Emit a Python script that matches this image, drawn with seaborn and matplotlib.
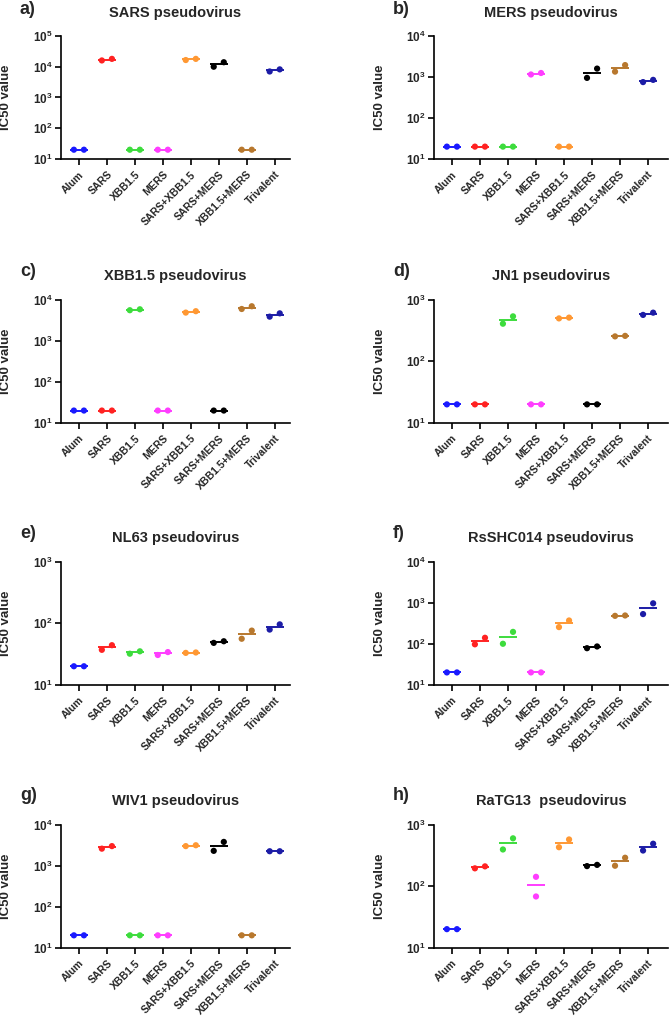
import numpy as np
import pandas as pd
import seaborn as sns
import matplotlib.pyplot as plt
from matplotlib.ticker import FuncFormatter, NullLocator

# groups and colours
groups = ["Alum", "SARS", "XBB1.5", "MERS", "SARS+XBB1.5", "SARS+MERS", "XBB1.5+MERS", "Trivalent"]
group_colors = ["#1a1aff", "#ff2222", "#3ddc3d", "#ff3dff", "#ff9833", "#000000", "#b8782e", "#1c1ca6"]

# IC50 values, two replicates per group
sars_rep1 = [20, 16000, 20, 20, 16500, 10000, 20, 7000]
sars_rep2 = [20, 18000, 20, 20, 18000, 14000, 20, 8200]
mers_rep1 = [20, 20, 20, 1150, 20, 950, 1350, 750]
mers_rep2 = [20, 20, 20, 1250, 20, 1600, 1950, 850]
xbb_rep1 = [20, 20, 5600, 20, 4900, 20, 6000, 3900]
xbb_rep2 = [20, 20, 5900, 20, 5300, 20, 7000, 4700]
jn1_rep1 = [20, 20, 410, 20, 500, 20, 255, 570]
jn1_rep2 = [20, 20, 540, 20, 515, 20, 260, 620]
nl63_rep1 = [20, 37, 32, 30.5, 33, 48, 56, 79]
nl63_rep2 = [20, 44, 35, 34, 33.5, 51, 76, 96]
rsshc_rep1 = [20, 97, 100, 20, 255, 78, 480, 530]
rsshc_rep2 = [20, 140, 195, 20, 370, 86, 490, 970]
wiv1_rep1 = [20, 2600, 20, 20, 3000, 2300, 20, 2250]
wiv1_rep2 = [20, 3000, 20, 20, 3150, 3800, 20, 2250]
ratg_rep1 = [20, 195, 395, 68, 430, 212, 215, 380]
ratg_rep2 = [20, 210, 600, 142, 575, 222, 290, 490]

titles = ["SARS pseudovirus", "MERS pseudovirus", "XBB1.5 pseudovirus", "JN1 pseudovirus",
          "NL63 pseudovirus", "RsSHC014 pseudovirus", "WIV1 pseudovirus", "RaTG13  pseudovirus"]
letters = ["a)", "b)", "c)", "d)", "e)", "f)", "g)", "h)"]
top_exp = [5, 4, 4, 3, 3, 4, 4, 3]
reps = [(sars_rep1, sars_rep2), (mers_rep1, mers_rep2), (xbb_rep1, xbb_rep2), (jn1_rep1, jn1_rep2),
        (nl63_rep1, nl63_rep2), (rsshc_rep1, rsshc_rep2), (wiv1_rep1, wiv1_rep2), (ratg_rep1, ratg_rep2)]

sns.set_style("ticks")
plt.rcParams["font.family"] = ["Liberation Sans", "DejaVu Sans"]
plt.rcParams["font.weight"] = "bold"
plt.rcParams["mathtext.fontset"] = "custom"
plt.rcParams["mathtext.rm"] = "Liberation Sans:bold"
plt.rcParams["mathtext.bf"] = "Liberation Sans:bold"
plt.rcParams["mathtext.it"] = "Liberation Sans:bold"

palette = dict(zip(groups, group_colors))

fig = plt.figure(figsize=(6.69, 10.19), dpi=100)
row_bottoms = [0.844, 0.585, 0.328, 0.070]
ax_h = 0.1207
col_left = [0.0912, 0.6487]
col_w = [0.342, 0.3498]
col_xmax = [7.54, 7.71]
letter_y = [10, 272, 533, 795]
letter_x = [20, 393]

for i in range(8):
    row, col = divmod(i, 2)
    ax = fig.add_axes([col_left[col], row_bottoms[row], col_w[col], ax_h])
    r1, r2 = reps[i]
    ytop = 10.0 ** top_exp[i]
    px_per_dec = 123 / (top_exp[i] - 1)

    # GraphPad-like spread: close pairs side by side, others stacked
    xs, vals, grp = [], [], []
    for k, g in enumerate(groups):
        lo, hi = sorted([r1[k], r2[k]])
        close = abs(np.log10(hi) - np.log10(lo)) * px_per_dec < 12
        dx = 0.18 if close else 0.0
        xs += [k - dx, k + dx]
        vals += [lo, hi]
        grp += [g, g]
    df = pd.DataFrame({"x": xs, "value": vals, "group": grp})

    sns.pointplot(data=df, x="group", y="value", order=groups, hue="group", hue_order=groups,
                  palette=palette, estimator="mean", errorbar=None, marker="_",
                  markersize=13, markeredgewidth=1.4, linestyle="none", legend=False, ax=ax)
    sns.scatterplot(data=df, x="x", y="value", hue="group", hue_order=groups, palette=palette,
                    s=20, linewidth=0, legend=False, ax=ax, zorder=3)

    ax.set_yscale("log")
    ax.set_ylim(10, ytop)
    ax.set_yticks([10.0 ** e for e in range(1, top_exp[i] + 1)])
    ax.yaxis.set_minor_locator(NullLocator())
    ax.yaxis.set_major_formatter(FuncFormatter(lambda v, p: r"$\mathbf{10^{%d}}$" % round(np.log10(v))))
    ax.set_xlim(-0.64, col_xmax[col])
    ax.set_xticks(range(len(groups)))
    ax.set_xticklabels(groups, rotation=45, ha="right", rotation_mode="anchor",
                       fontsize=7.5, fontweight="bold")
    ax.tick_params(axis="y", labelsize=8.5, pad=2)
    ax.tick_params(width=1.2, length=4, color="black")
    ax.set_xlabel("")
    ax.set_ylabel("IC50 value", fontsize=9.5, fontweight="bold")
    ax.yaxis.set_label_coords(-0.215 if col == 0 else -0.207, 0.5)
    ax.set_title(titles[i], fontsize=10.5, fontweight="bold", pad=14)
    for s in ["top", "right"]:
        ax.spines[s].set_visible(False)
    for s in ["left", "bottom"]:
        ax.spines[s].set_linewidth(1.2)
        ax.spines[s].set_color("black")

    fig.text(letter_x[col] / 669, 1 - letter_y[row] / 1019, letters[i],
             fontsize=13, fontweight="bold", ha="left", va="center")

fig.savefig("out.png", dpi=100, facecolor="white")
